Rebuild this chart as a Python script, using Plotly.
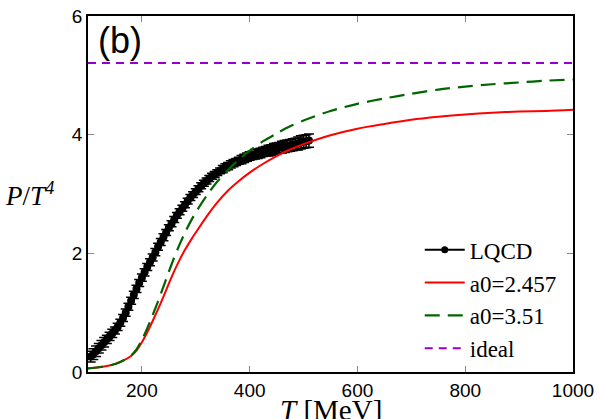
import plotly.graph_objects as go

# LQCD data
T_lqcd = list(range(105, 515, 5))
P_lqcd = [0.26, 0.30, 0.35, 0.40, 0.45, 0.50, 0.55, 0.60, 0.65, 0.70,
          0.76, 0.83, 0.91, 1.00, 1.10, 1.20, 1.30, 1.40, 1.50, 1.59,
          1.68, 1.77, 1.85, 1.93, 2.02, 2.11, 2.19, 2.27, 2.35, 2.43,
          2.50, 2.57, 2.64, 2.70, 2.76, 2.82, 2.88, 2.94, 2.99, 3.04,
          3.09, 3.14, 3.18, 3.22, 3.26, 3.30, 3.33, 3.36, 3.39, 3.42,
          3.45, 3.47, 3.50, 3.52, 3.54, 3.56, 3.58, 3.60, 3.62, 3.64,
          3.65, 3.67, 3.68, 3.69, 3.71, 3.72, 3.73, 3.74, 3.76, 3.77,
          3.78, 3.79, 3.80, 3.81, 3.82, 3.83, 3.84, 3.85, 3.87, 3.88,
          3.89, 3.90]
E_lqcd = [0.09, 0.09, 0.09, 0.08, 0.08, 0.08, 0.07, 0.07, 0.07, 0.06,
          0.06, 0.06, 0.06, 0.06, 0.06, 0.06, 0.06, 0.06, 0.06, 0.06,
          0.06, 0.06, 0.06, 0.06, 0.06, 0.06, 0.06, 0.06, 0.05, 0.05,
          0.05, 0.05, 0.05, 0.05, 0.05, 0.05, 0.05, 0.05, 0.05, 0.05,
          0.05, 0.05, 0.05, 0.05, 0.05, 0.05, 0.05, 0.05, 0.05, 0.06,
          0.06, 0.06, 0.06, 0.06, 0.06, 0.06, 0.07, 0.07, 0.07, 0.07,
          0.07, 0.08, 0.08, 0.08, 0.08, 0.08, 0.09, 0.09, 0.09, 0.09,
          0.09, 0.10, 0.10, 0.10, 0.10, 0.10, 0.10, 0.11, 0.11, 0.11,
          0.11, 0.11]

# Model curves
T_model = [100, 120, 140, 160, 180, 190, 200, 210, 220, 230, 240, 250, 260,
           270, 280, 290, 300, 320, 340, 360, 380, 400, 425, 450, 475, 500,
           550, 600, 650, 700, 750, 800, 850, 900, 950, 1000]
P_a0_2457 = [0.06, 0.08, 0.11, 0.17, 0.27, 0.36, 0.50, 0.67, 0.86, 1.06, 1.27,
             1.49, 1.70, 1.89, 2.06, 2.21, 2.35, 2.62, 2.86, 3.06, 3.22, 3.36,
             3.51, 3.64, 3.75, 3.84, 3.99, 4.10, 4.18, 4.25, 4.30, 4.34, 4.37,
             4.39, 4.40, 4.42]
P_a0_351 = [0.06, 0.08, 0.11, 0.17, 0.28, 0.38, 0.54, 0.74, 0.96, 1.19, 1.44,
            1.69, 1.93, 2.15, 2.35, 2.53, 2.69, 2.97, 3.21, 3.41, 3.58, 3.73,
            3.89, 4.02, 4.14, 4.24, 4.40, 4.52, 4.61, 4.69, 4.76, 4.81, 4.85,
            4.88, 4.91, 4.93]
T_ideal = [100, 1000]
P_ideal = [5.209, 5.209]

fig = go.Figure()

fig.add_trace(go.Scatter(
    x=T_lqcd, y=P_lqcd, mode="markers",
    marker=dict(color="black", size=8, symbol="circle"),
    error_y=dict(type="data", array=E_lqcd, color="black", thickness=1.5, width=5),
    showlegend=False))
fig.add_trace(go.Scatter(
    x=[None], y=[None], mode="lines+markers", name="LQCD",
    marker=dict(color="black", size=7), line=dict(color="black", width=2)))
fig.add_trace(go.Scatter(
    x=T_model, y=P_a0_2457, mode="lines", name="a0=2.457",
    line=dict(color="#ff0000", width=2, shape="spline", smoothing=0.8)))
fig.add_trace(go.Scatter(
    x=T_model, y=P_a0_351, mode="lines", name="a0=3.51",
    line=dict(color="#006400", width=2.2, dash="15px,8px", shape="spline", smoothing=0.8)))
fig.add_trace(go.Scatter(
    x=T_ideal, y=P_ideal, mode="lines", name="ideal",
    line=dict(color="#9400d3", width=2, dash="8px,6px")))

axis_common = dict(
    showline=True, linecolor="black", linewidth=1.5, mirror="ticks",
    ticks="inside", ticklen=6, tickwidth=1, tickcolor="#888",
    showgrid=False, zeroline=False, automargin=False,
    tickfont=dict(family="Liberation Sans, Arial", size=19, color="black"),
)

fig.update_layout(
    template="none",
    width=600, height=419,
    margin=dict(l=88, r=27, t=16, b=47),
    paper_bgcolor="white", plot_bgcolor="white",
    xaxis=dict(range=[100, 1000], tickvals=[200, 400, 600, 800, 1000],
               **axis_common),
    yaxis=dict(range=[0, 6], tickvals=[0, 2, 4, 6], **axis_common),
    legend=dict(x=0.684, y=0.404, xanchor="left", yanchor="top",
                bgcolor="rgba(0,0,0,0)",
                font=dict(family="Liberation Serif, Times New Roman", size=23, color="black"),
                itemwidth=40, tracegroupgap=0),
    annotations=[
        dict(text="(b)", xref="paper", yref="paper", x=0.066, y=0.932,
             xanchor="center", yanchor="middle", showarrow=False,
             font=dict(family="Liberation Sans, Arial", size=36, color="black")),
        dict(text="<i>P</i>/<i>T</i><sup><i>4</i></sup>", xref="paper", yref="paper",
             x=-0.12, y=0.50, xanchor="center", yanchor="middle", showarrow=False,
             font=dict(family="Liberation Serif, Times New Roman", size=27, color="black")),
        dict(text="<i>T</i> [MeV]", xref="paper", yref="paper",
             x=0.5, y=-0.055, xanchor="center", yanchor="top", showarrow=False,
             font=dict(family="Liberation Serif, Times New Roman", size=29, color="black")),
    ],
)

fig.write_html("out.html")
